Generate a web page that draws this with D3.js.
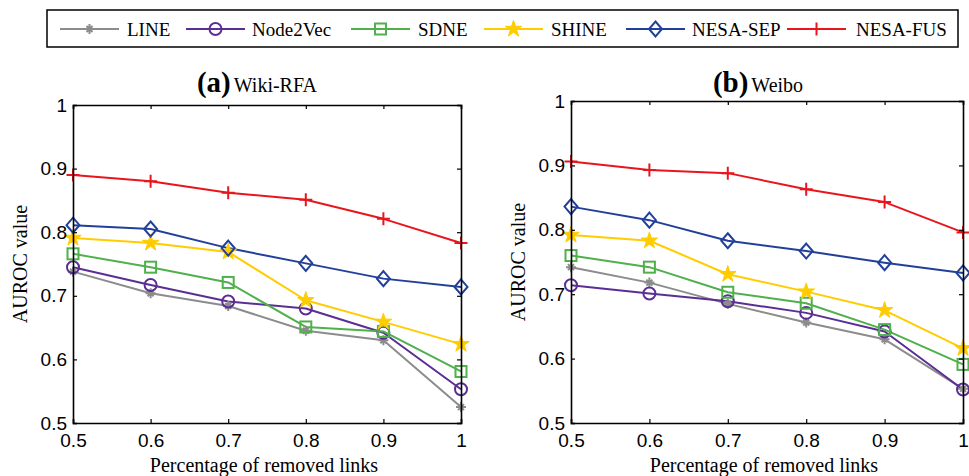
<!DOCTYPE html>
<html><head><meta charset="utf-8">
<script src="https://cdn.jsdelivr.net/npm/d3@7"></script>
<style>
html,body{margin:0;padding:0;background:#fff;}
svg{display:block;}
</style></head>
<body>
<svg id="chart" width="969" height="476"></svg>
<script>
// ---------- data ----------
const removedFractions = [0.5, 0.6, 0.7, 0.8, 0.9, 1.0];
const methods = ["LINE", "Node2Vec", "SDNE", "SHINE", "NESA-SEP", "NESA-FUS"];
const xTickLabels = ["0.5", "0.6", "0.7", "0.8", "0.9", "1"];
const yTickLabels = ["0.5", "0.6", "0.7", "0.8", "0.9", "1"];

// (a) Wiki-RFA
const wikiLINE     = [0.738, 0.704, 0.684, 0.645, 0.630, 0.525];
const wikiNode2Vec = [0.745, 0.717, 0.691, 0.680, 0.642, 0.553];
const wikiSDNE     = [0.766, 0.745, 0.721, 0.651, 0.644, 0.581];
const wikiSHINE    = [0.791, 0.783, 0.769, 0.693, 0.659, 0.624];
const wikiNESASEP  = [0.811, 0.805, 0.775, 0.751, 0.727, 0.714];
const wikiNESAFUS  = [0.890, 0.880, 0.862, 0.851, 0.821, 0.783];

// (b) Weibo
const weiboLINE     = [0.742, 0.718, 0.685, 0.656, 0.630, 0.553];
const weiboNode2Vec = [0.714, 0.701, 0.689, 0.671, 0.642, 0.552];
const weiboSDNE     = [0.760, 0.742, 0.703, 0.686, 0.645, 0.591];
const weiboSHINE    = [0.792, 0.783, 0.731, 0.704, 0.675, 0.616];
const weiboNESASEP  = [0.836, 0.815, 0.783, 0.767, 0.749, 0.733];
const weiboNESAFUS  = [0.906, 0.893, 0.888, 0.863, 0.843, 0.796];

// ---------- styles ----------
const colors = {
  "LINE": "#8c8c8c", "Node2Vec": "#5b2e93", "SDNE": "#4fb04c",
  "SHINE": "#ffcc00", "NESA-SEP": "#22409a", "NESA-FUS": "#e8161c"
};
const serif = "'Liberation Serif','Times New Roman',serif";
const sans = "'Liberation Sans',Arial,sans-serif";

const svg = d3.select("#chart");

function drawMarker(g, method, cx, cy) {
  const c = colors[method];
  const m = g.append("g").attr("transform", `translate(${cx},${cy})`);
  if (method === "LINE") {
    m.append("path").attr("d", "M-5,0H5M0,-5V5M-3,-3L3,3M-3,3L3,-3")
      .attr("stroke", c).attr("stroke-width", 2).attr("fill", "none");
    m.append("circle").attr("r", 2.2).attr("fill", c);
  } else if (method === "Node2Vec") {
    m.append("circle").attr("r", 6).attr("fill", "none").attr("stroke", c).attr("stroke-width", 2);
  } else if (method === "SDNE") {
    m.append("rect").attr("x", -5.5).attr("y", -5.5).attr("width", 11).attr("height", 11)
      .attr("fill", "none").attr("stroke", c).attr("stroke-width", 2);
  } else if (method === "SHINE") {
    m.append("path").attr("d", d3.symbol().type(d3.symbolStar).size(85)())
      .attr("fill", c).attr("stroke", c).attr("stroke-width", 1);
  } else if (method === "NESA-SEP") {
    m.append("path").attr("d", "M0,-7.5L6.5,0L0,7.5L-6.5,0Z")
      .attr("fill", "none").attr("stroke", c).attr("stroke-width", 2);
  } else {
    m.append("path").attr("d", "M-6.5,0H6.5M0,-6.5V6.5")
      .attr("fill", "none").attr("stroke", c).attr("stroke-width", 2);
  }
}

function panel(opts) {
  const {left, right, top, bottom, series, titleBold, titleText, titleX, yLabelX} = opts;
  const x = d3.scaleLinear().domain([0.5, 1]).range([left, right]);
  const y = d3.scaleLinear().domain([0.5, 1]).range([bottom, top]);
  const g = svg.append("g");
  const ticks = [0.5, 0.6, 0.7, 0.8, 0.9, 1.0];

  // series lines
  const line = d3.line().x((d, i) => x(removedFractions[i])).y(d => y(d));
  methods.forEach((mth, k) => {
    g.append("path").datum(series[k]).attr("d", line)
      .attr("fill", "none").attr("stroke", colors[mth]).attr("stroke-width", 2)
      .attr("stroke-linejoin", "round");
  });
  methods.forEach((mth, k) => {
    series[k].forEach((v, i) => drawMarker(g, mth, x(removedFractions[i]), y(v)));
  });

  // axes (box with inward ticks)
  const xb = d3.axisBottom(x).tickValues(ticks).tickSize(-4).tickPadding(8)
    .tickFormat((d, i) => xTickLabels[i]);
  const xt = d3.axisTop(x).tickValues(ticks).tickSize(-4).tickFormat("");
  const yl = d3.axisLeft(y).tickValues(ticks).tickSize(-4).tickPadding(6)
    .tickFormat((d, i) => yTickLabels[i]);
  const yr = d3.axisRight(y).tickValues(ticks).tickSize(-4).tickFormat("");
  const axes = [
    g.append("g").attr("transform", `translate(0,${bottom})`).call(xb),
    g.append("g").attr("transform", `translate(0,${top})`).call(xt),
    g.append("g").attr("transform", `translate(${left},0)`).call(yl),
    g.append("g").attr("transform", `translate(${right},0)`).call(yr)
  ];
  axes.forEach(a => {
    a.select(".domain").attr("stroke", "#000").attr("stroke-width", 1.6);
    a.selectAll(".tick line").attr("stroke", "#000").attr("stroke-width", 1.2);
    a.selectAll("text").attr("fill", "#000").style("font-family", sans).style("font-size", "19px");
  });
  axes[0].selectAll("text").attr("dy", "0.85em");

  // title
  const t = g.append("text").attr("x", titleX).attr("y", 92).attr("text-anchor", "middle")
    .style("font-family", serif).attr("fill", "#000");
  t.append("tspan").text(titleBold).style("font-weight", "bold").style("font-size", "29px");
  t.append("tspan").attr("dx", 3).text(titleText).style("font-size", "20px");

  // axis labels
  g.append("text").attr("x", (left + right) / 2 - 3).attr("y", 472).attr("text-anchor", "middle")
    .style("font-family", serif).style("font-size", "20px").attr("fill", "#000")
    .text("Percentage of removed links");
  g.append("text").attr("transform", `translate(${yLabelX},${(top + bottom) / 2}) rotate(-90)`)
    .attr("text-anchor", "middle")
    .style("font-family", serif).style("font-size", "20px").attr("fill", "#000")
    .text("AUROC value");
}

panel({
  left: 73, right: 461, top: 105, bottom: 423,
  series: [wikiLINE, wikiNode2Vec, wikiSDNE, wikiSHINE, wikiNESASEP, wikiNESAFUS],
  titleBold: "(a)", titleText: "Wiki-RFA", titleX: 257, yLabelX: 27
});
panel({
  left: 571, right: 963, top: 101, bottom: 423,
  series: [weiboLINE, weiboNode2Vec, weiboSDNE, weiboSHINE, weiboNESASEP, weiboNESAFUS],
  titleBold: "(b)", titleText: "Weibo", titleX: 758, yLabelX: 525
});

// ---------- legend ----------
const legend = svg.append("g");
legend.append("rect").attr("x", 47).attr("y", 10).attr("width", 911).attr("height", 37)
  .attr("fill", "#fff").attr("stroke", "#000").attr("stroke-width", 1.5);
const legendLineStart = [60, 186, 351, 484, 626, 787];
const legendTextStart = [127, 252, 418, 551, 692, 856];
legendLineStart.forEach((lx, i) => {
  const mth = methods[i];
  legend.append("line").attr("x1", lx).attr("x2", lx + 59).attr("y1", 29).attr("y2", 29)
    .attr("stroke", colors[mth]).attr("stroke-width", 2);
  drawMarker(legend, mth, lx + 29.5, 29);
  legend.append("text").attr("x", legendTextStart[i]).attr("y", 35.5)
    .style("font-family", serif).style("font-size", "19px").attr("fill", "#000").text(mth);
});
</script>
</body></html>
